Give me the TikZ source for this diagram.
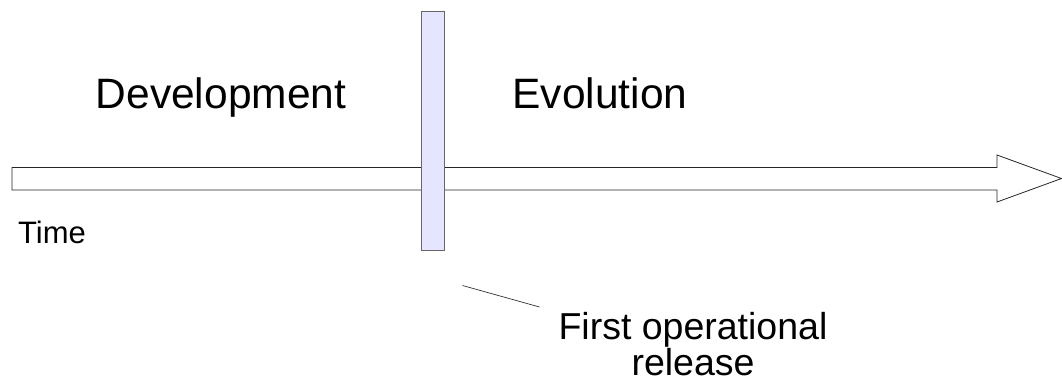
\documentclass[tikz,border=0pt]{standalone}
\usepackage{fontspec}
\setmainfont{Liberation Sans}
\begin{document}
\begin{tikzpicture}[x=1pt,y=-1pt,
    phase/.style={font=\fontsize{42.5}{50}\selectfont, anchor=base, inner sep=0pt},
    smalltext/.style={font=\fontsize{31}{36}\selectfont, anchor=base west, inner sep=0pt},
    callout/.style={font=\fontsize{37.5}{32}\selectfont, align=center, anchor=base, inner sep=0pt},
    release bar/.style={draw=black!60, fill=blue!10, line width=0.8pt}]
        \useasboundingbox (0,0) rectangle (1062,381);

        % time arrow
        \draw[black!85, line width=0.8pt] (12,167.5) -- (997,167.5) -- (997,155) -- (1061.5,178.5)
            -- (997,202) -- (997,190) -- (12,190) -- cycle;

        \filldraw[release bar] (421,11) rectangle (444,250);

        \node[phase] (dev) at (221,108.5) {Development};
        \node[phase] (evo) at (600,108.5) {Evolution};
        \node[smalltext] (time) at (18,243) {Time};
        % base anchor sits on the last line here
        \node[callout] (release) at (693,375) {First operational\\release};

        \coordinate (lineA) at (462.5,285.5);
        \coordinate (lineB) at (539.5,307);
        \draw[black!80, line width=0.7pt] (lineA) -- (lineB);
    \end{tikzpicture}
\end{document}
